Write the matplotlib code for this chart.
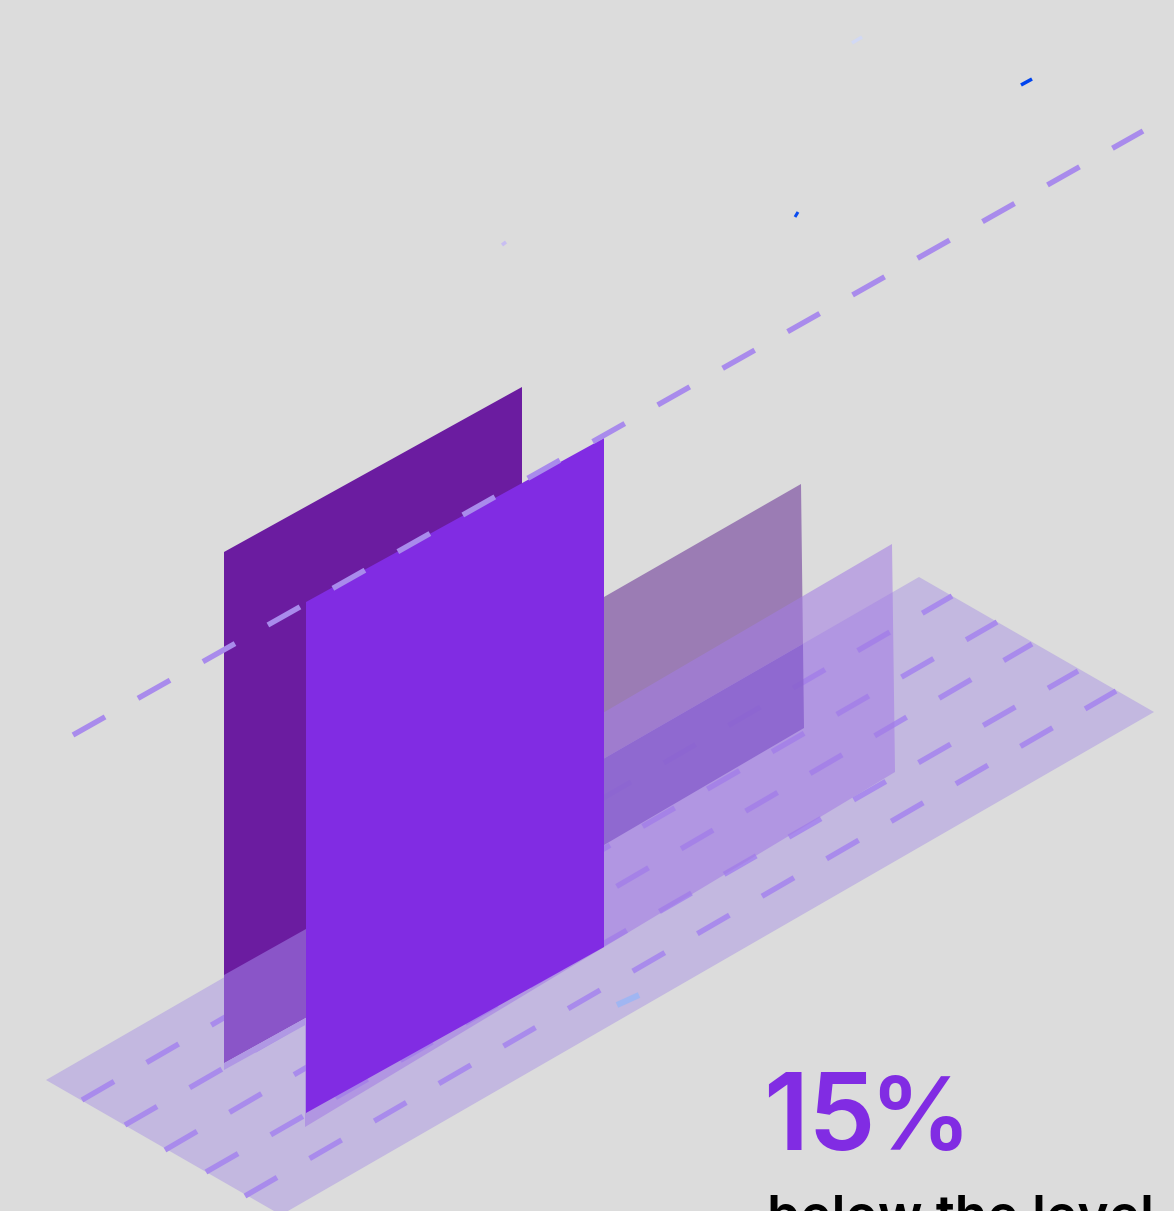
import matplotlib
matplotlib.use('Agg')
import matplotlib.pyplot as plt
from matplotlib.patches import Polygon
import numpy as np

plt.rcParams['font.family'] = ['Inter', 'DejaVu Sans']
plt.rcParams['lines.scale_dashes'] = False

W, H = 1174, 1211
PX = 72.0 / 100  # points per pixel at dpi 100

stat_value = 15
stat_caption = 'below the level'

# the four upright panels: dark, front, muted, pale
panel_names = ['dark', 'front', 'muted', 'pale']
panel_height_left = [511, 511, 248, 240]
panel_height_right = [511, 509, 244, 228]
panel_x_left = [224, 306, 604, 305]
panel_x_right = [522, 604, 804, 895]
panel_base_left = [1063, 1113, 845, 1127]
panel_base_right = [898, 947, 728, 772]
panel_lean = [0, 0, 3, 3]

# floor plate corners
floor_x = [46, 919, 1154, 281]
floor_y = [1080, 577, 712, 1215]

# dashed rows on the floor, from the near end to the far end
row_x0 = [82, 125, 165, 206, 245]
row_y0 = [1100, 1125, 1150, 1172, 1196]
row_x1 = [952, 997, 1032, 1078, 1116]
row_y1 = [596, 622, 644, 671, 691]

# tiny stray glints
glint_x0 = [502, 795, 1021, 852, 617]
glint_y0 = [245, 217, 85, 43, 1005]
glint_x1 = [506, 798, 1032, 862, 639]
glint_y1 = [242, 212, 79, 37, 995]
glint_width = [3.5, 3, 3.5, 3.5, 6]
glint_color = ['#c8bef2', '#0a4cf0', '#0044ee', '#d2d9f4', '#a0b6f2']


def panel_points(i):
    lean = panel_lean[i]
    return [(panel_x_left[i], panel_base_left[i] - panel_height_left[i]),
            (panel_x_right[i] - lean, panel_base_right[i] - panel_height_right[i]),
            (panel_x_right[i], panel_base_right[i]),
            (panel_x_left[i], panel_base_left[i])]


def dashed(ax, x0, y0, x1, y1, period, on, **kw):
    ax.plot([x0, x1], [y0, y1], linestyle=(0, (on * PX, (period - on) * PX)),
            color='#a98bec', lw=5.4 * PX, dash_capstyle='butt', **kw)


fig = plt.figure(figsize=(W / 100, H / 100), dpi=100, facecolor='#dcdcdc')
ax = fig.add_axes([0, 0, 1, 1])
ax.set_xlim(0, W)
ax.set_ylim(H, 0)
ax.axis('off')

# muted panel sits behind the floor where it stands on open background
ax.add_patch(Polygon(panel_points(2), closed=True, fc='#9b7cb4', ec='none', zorder=1))

floor = Polygon(list(zip(floor_x, floor_y)), closed=True, fc='#c3b8e0', ec='none', zorder=2)
ax.add_patch(floor)

for k in range(len(row_x0)):
    dashed(ax, row_x0[k], row_y0[k], row_x1[k], row_y1[k], 74.7, 37, zorder=3)

# same panel again, seen over the floor and its dashes
overlap = Polygon(panel_points(2), closed=True, fc='#6c44b2', ec='none', alpha=0.88, zorder=4)
ax.add_patch(overlap)
overlap.set_clip_path(floor)

ax.add_patch(Polygon(panel_points(3), closed=True, fc=(163 / 255, 124 / 255, 228 / 255),
                     ec='none', alpha=0.56, zorder=5))

# dark panel, its lower part tinted where the floor crosses it
ax.add_patch(Polygon(panel_points(0), closed=True, fc='#6b1ca0', ec='none', zorder=6))
xl, xr = panel_x_left[0], panel_x_left[1]
slope = (panel_base_right[0] - panel_base_left[0]) / (panel_x_right[0] - panel_x_left[0])
yl_base = panel_base_left[0]
yr_base = yl_base + slope * (xr - xl)
ax.add_patch(Polygon([(xl, 975), (xr, 929), (xr, yr_base), (xl, yl_base)], closed=True,
                     fc='#8a55c8', ec='none', zorder=7))
ax.add_patch(Polygon([(xl, yl_base), (xr, yr_base), (xr, yr_base + 7), (xl, yl_base + 7)],
                     closed=True, fc='#b098e4', ec='none', zorder=7))

ax.add_patch(Polygon(panel_points(1), closed=True, fc='#812ce3', ec='none', zorder=8))

# long dashed line running over everything
dashed(ax, 73, 735, 1143, 131, 74.6, 36.8, zorder=9)

for k in range(len(glint_x0)):
    ax.plot([glint_x0[k], glint_x1[k]], [glint_y0[k], glint_y1[k]], color=glint_color[k],
            lw=glint_width[k] * PX, solid_capstyle='butt', zorder=10)

# number and percent sign set apart, the sign slightly tighter
ax.text(763, 1150, '%d' % stat_value, color='#812ce3', fontsize=107 * PX,
        fontweight='semibold', va='baseline', ha='left', zorder=11)
ax.text(869, 1150, '%', color='#812ce3', fontsize=101 * PX,
        fontweight='semibold', va='baseline', ha='left', zorder=11)
ax.text(767, 1233, stat_caption, color='black', fontsize=53.2 * PX,
        fontweight='semibold', va='baseline', ha='left', zorder=11, clip_on=True)

plt.savefig('out.png', dpi=100, facecolor=fig.get_facecolor())
